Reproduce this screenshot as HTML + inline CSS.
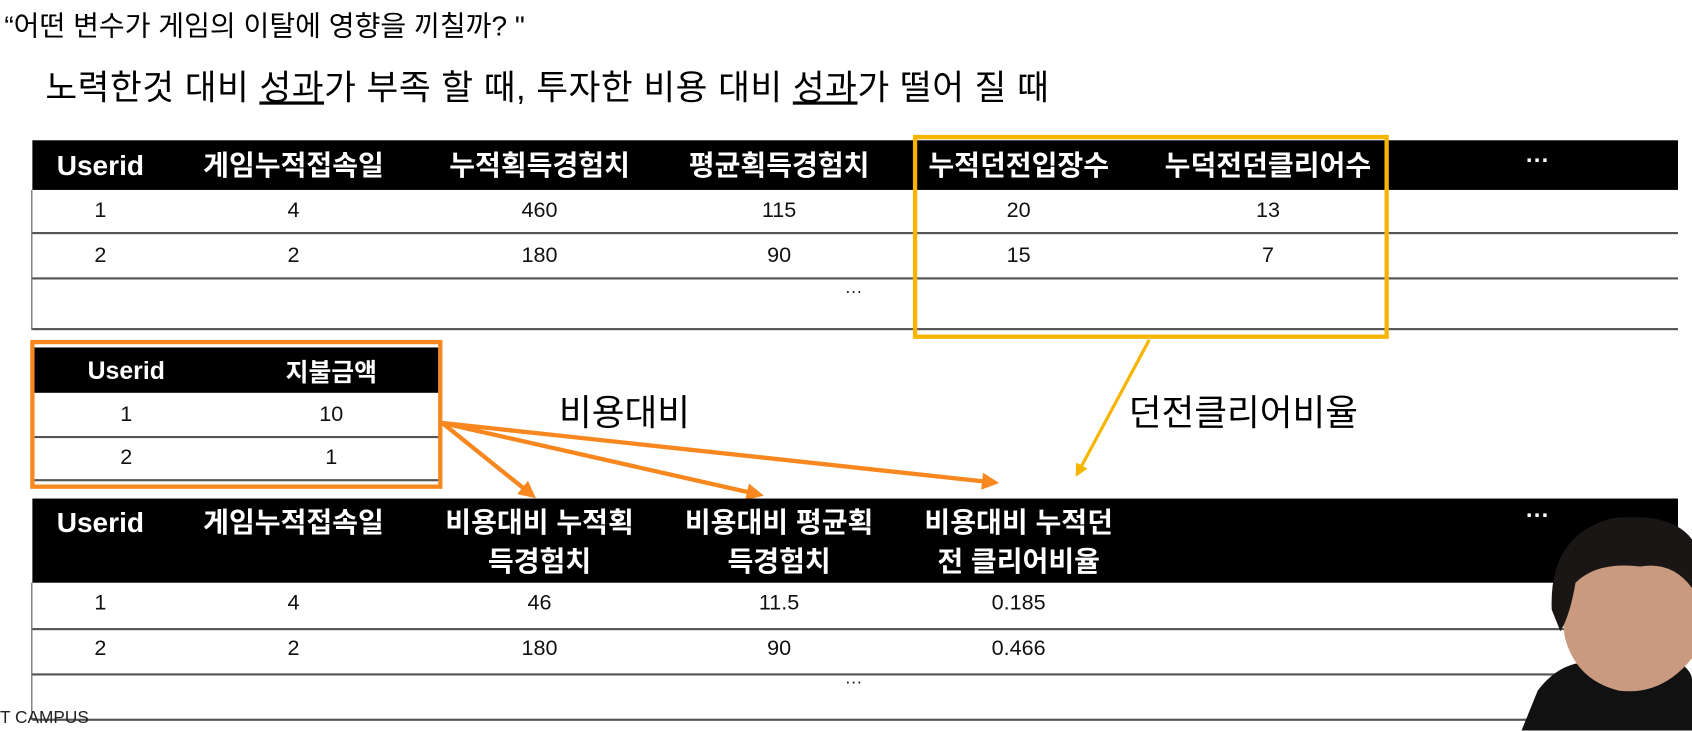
<!DOCTYPE html>
<html><head><meta charset="utf-8"><style>
body{margin:0;width:1692px;height:730px;overflow:hidden;background:#fff;font-family:"Liberation Sans","Noto Sans CJK KR",sans-serif;}
#s{position:absolute;left:0;top:0;width:1568px;height:677px;transform:scale(1.0791);transform-origin:0 0;}
.a{position:absolute;white-space:nowrap;}
.hd{position:absolute;background:#000;color:#fff;font-weight:bold;font-size:26px;}
.c{position:absolute;transform:translateX(-50%);text-align:center;white-space:nowrap;}
.v{font-size:20px;color:#111;}
.ln{position:absolute;height:2px;background:#555;}
</style></head><body>
<div id="s">
<div class="a" style="left:4px;top:4px;font-size:26px">“어떤 변수가 게임의 이탈에 영향을 끼칠까? "</div>
<div class="a" style="left:42px;top:56px;font-size:32px;letter-spacing:0.5px">노력한것 대비 <u>성과</u>가 부족 할 때, 투자한 비용 대비 <u>성과</u>가 떨어 질 때</div>

<div>
<div class="hd" style="left:30px;top:130px;width:1525px;height:46px;line-height:46px">
<span class="c" style="left:63px;top:0">Userid</span>
<span class="c" style="left:242px;top:0">게임누적접속일</span>
<span class="c" style="left:470px;top:0">누적획득경험치</span>
<span class="c" style="left:692px;top:0">평균획득경험치</span>
<span class="c" style="left:914px;top:0">누적던전입장수</span>
<span class="c" style="left:1145px;top:0">누덕전던클리어수</span>
<span class="c" style="left:1395px;top:-4px;font-size:22px">···</span>
</div>
<div class="ln" style="left:30px;top:215px;width:1525px"></div>
<div class="ln" style="left:30px;top:257px;width:1525px"></div>
<div class="ln" style="left:30px;top:304px;width:1525px"></div>
<div style="position:absolute;left:29px;top:176px;width:1px;height:130px;background:#555"></div>
<div class="c v" style="left:93px;top:184px">1</div><div class="c v" style="left:272px;top:184px">4</div><div class="c v" style="left:500px;top:184px">460</div><div class="c v" style="left:722px;top:184px">115</div><div class="c v" style="left:944px;top:184px">20</div><div class="c v" style="left:1175px;top:184px">13</div>
<div class="c v" style="left:93px;top:226px">2</div><div class="c v" style="left:272px;top:226px">2</div><div class="c v" style="left:500px;top:226px">180</div><div class="c v" style="left:722px;top:226px">90</div><div class="c v" style="left:944px;top:226px">15</div><div class="c v" style="left:1175px;top:226px">7</div>
<div class="c v" style="left:791px;top:262px;font-size:16px">···</div>
</div>
<div class="a" style="left:846px;top:125px;width:433px;height:181px;border:4px solid #f7b500"></div>

<div class="a" style="left:28px;top:315px;width:374px;height:130px;border:4px solid #f7871e">
<div class="hd" style="left:0;top:3px;width:374px;height:42px;line-height:42px;font-size:23px"><span class="c" style="left:85px;top:0">Userid</span><span class="c" style="left:275px;top:2px">지불금액</span></div>
<div class="ln" style="left:0;top:85px;width:374px"></div>
<div class="ln" style="left:0;top:125px;width:374px"></div>
<div class="c v" style="left:85px;top:54px">1</div><div class="c v" style="left:275px;top:54px">10</div>
<div class="c v" style="left:85px;top:94px">2</div><div class="c v" style="left:275px;top:94px">1</div>
</div>
<div class="a" style="left:518px;top:356px;font-size:33px">비용대비</div>
<div class="a" style="left:1046px;top:356px;font-size:33px">던전클리어비율</div>

<svg style="position:absolute;left:0;top:0" width="1568" height="677">
<defs><marker id="mo" markerWidth="4" markerHeight="4" refX="2.5" refY="2" orient="auto"><path d="M0,0L4,2L0,4z" fill="#f7871e"/></marker>
<marker id="my" markerWidth="4" markerHeight="4" refX="2.5" refY="2" orient="auto"><path d="M0,0L4,2L0,4z" fill="#f7b500"/></marker></defs>
<g stroke="#f7871e" stroke-width="4" marker-end="url(#mo)">
<line x1="410" y1="392" x2="492" y2="458"/><line x1="410" y1="392" x2="702" y2="458"/><line x1="410" y1="392" x2="920" y2="447"/></g>
<line x1="1065" y1="315" x2="999" y2="438" stroke="#f7b500" stroke-width="3" marker-end="url(#my)"/>
</svg>

<div>
<div class="hd" style="left:30px;top:462px;width:1525px;height:78px;line-height:36px">
<span class="c" style="left:63px;top:4px">Userid</span>
<span class="c" style="left:242px;top:4px">게임누적접속일</span>
<span class="c" style="left:470px;top:4px">비용대비 누적획<br>득경험치</span>
<span class="c" style="left:692px;top:4px">비용대비 평균획<br>득경험치</span>
<span class="c" style="left:914px;top:4px">비용대비 누적던<br>전 클리어비율</span>
<span class="c" style="left:1395px;top:-2px;font-size:22px">···</span>
</div>
<div class="ln" style="left:30px;top:582px;width:1525px"></div>
<div class="ln" style="left:30px;top:624px;width:1525px"></div>
<div class="ln" style="left:30px;top:666px;width:1525px"></div>
<div style="position:absolute;left:29px;top:540px;width:1px;height:127px;background:#555"></div>
<div class="c v" style="left:93px;top:548px">1</div><div class="c v" style="left:272px;top:548px">4</div><div class="c v" style="left:500px;top:548px">46</div><div class="c v" style="left:722px;top:548px">11.5</div><div class="c v" style="left:944px;top:548px">0.185</div>
<div class="c v" style="left:93px;top:590px">2</div><div class="c v" style="left:272px;top:590px">2</div><div class="c v" style="left:500px;top:590px">180</div><div class="c v" style="left:722px;top:590px">90</div><div class="c v" style="left:944px;top:590px">0.466</div>
<div class="c v" style="left:791px;top:624px;font-size:16px">···</div>
</div>
<div class="a" style="left:0;top:657px;font-size:16px;color:#222">T CAMPUS</div>

<svg style="position:absolute;left:1400px;top:470px" width="168" height="207">
<path d="M10,207 L25,170 Q40,150 60,145 L150,140 Q168,150 168,160 L168,207z" fill="#111"/>
<path d="M45,80 Q40,30 90,15 Q140,10 160,40 L168,60 L168,140 Q140,175 100,170 Q60,160 50,120z" fill="#c99a80"/>
<path d="M38,95 Q35,25 95,10 Q150,5 168,30 L168,75 Q150,50 120,55 Q80,50 60,70 Q55,100 46,115z" fill="#1a1616"/>
</svg>
</div>
</body></html>
